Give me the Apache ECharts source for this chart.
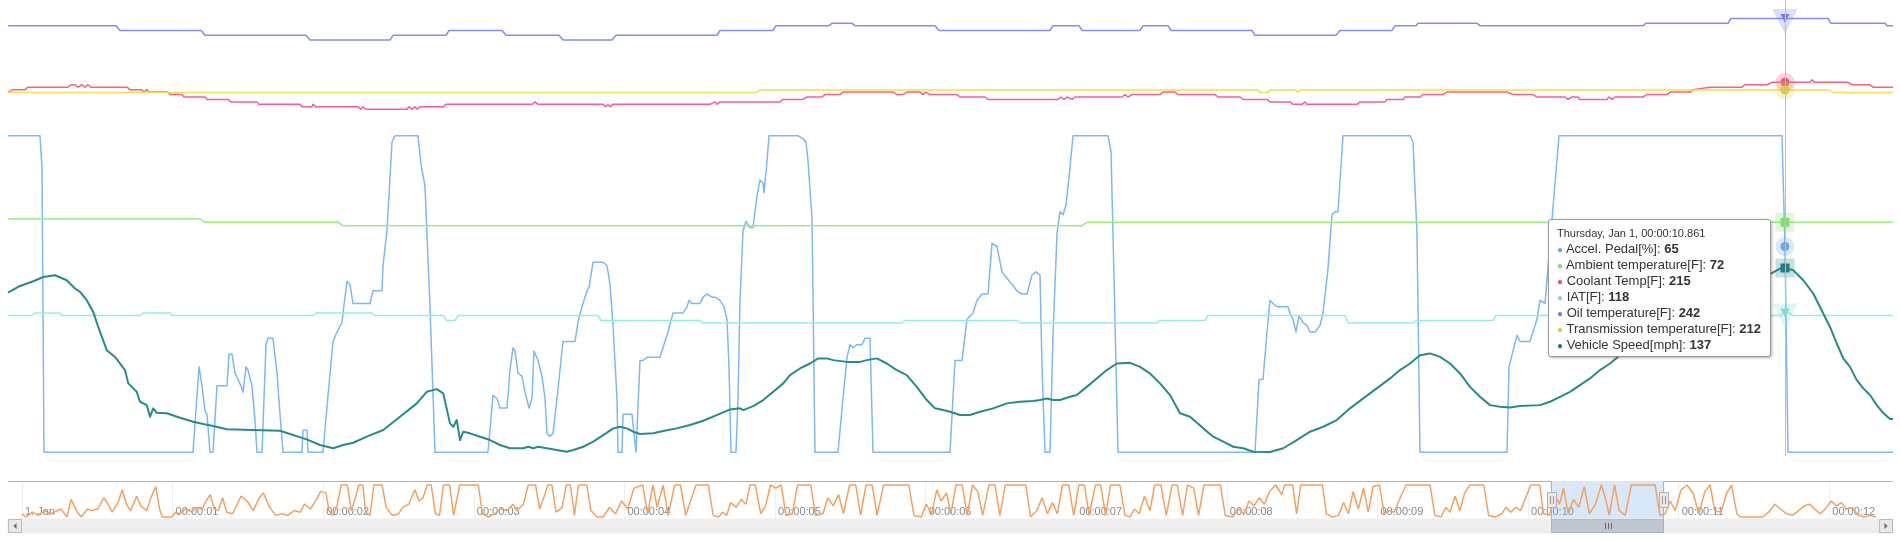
<!DOCTYPE html>
<html lang="en">
<head>
  <meta charset="UTF-8">
  <title>Vehicle log</title>
  <script src="https://cdn.jsdelivr.net/npm/echarts@6/dist/echarts.min.js"></script>
  <style>
    html, body { margin: 0; padding: 0; background: #fff; }
    #chart { width: 1900px; height: 540px; }
  </style>
</head>
<body>
<div id="chart"></div>
<script>
// time in ms since 1 Jan 1970
var seriesNames = ['Accel. Pedal[%]', 'Ambient temperature[F]', 'Coolant Temp[F]', 'IAT[F]',
  'Oil temperature[F]', 'Transmission temperature[F]', 'Vehicle Speed[mph]'];

var accelPedal = [[10150.2,100],[10163,100],[10163.8,90],[10164.6,0],[10224.2,0],[10226.6,27],[10227.8,21],[10229,13],[10229.8,12],[10231,0],[10232.2,0],[10233.8,21],[10237.8,21],[10238.6,31],[10239.8,31],[10241,25],[10242.2,23],[10243.4,21],[10244.2,19],[10245.4,27],[10246.2,26],[10247.8,21],[10249,10],[10249.8,0],[10251.8,0],[10253.4,34],[10254.2,36],[10256.2,36],[10257.8,25],[10259,12],[10260.2,0],[10267.8,0],[10268.2,7],[10269.8,7],[10270.2,0],[10276.2,0],[10278.2,18],[10280.2,35],[10281.8,38],[10283.8,41],[10284.2,44],[10285.8,54],[10287,53],[10288.2,47],[10295,47],[10296.2,51],[10299.8,51],[10300.2,59],[10301.8,70],[10303.8,98],[10305,100],[10314.2,100],[10315.4,91],[10317,84],[10319,46],[10321,0],[10342.2,0],[10344.2,18],[10345.8,17],[10347,14],[10349.8,14],[10351,26],[10352.2,33],[10353,32],[10354.2,25],[10355.8,24],[10357,19],[10358.6,14],[10359.8,17],[10360.6,32],[10362.2,29],[10363.8,24],[10365,17],[10365.8,6],[10367,5],[10368.2,6],[10369.8,17],[10372.2,35],[10377,35],[10378.2,41],[10379.8,46],[10381.8,51],[10382.6,52],[10384.2,60],[10388.2,60],[10389.8,59],[10391,53],[10392.2,40],[10393.8,17],[10394.2,0],[10395.8,0],[10396.2,12],[10399.8,12],[10400.6,6],[10401.4,0],[10401.8,0],[10403,29],[10404.2,29],[10405.8,30],[10411,30],[10412.2,33],[10414.2,38],[10416.2,44],[10420.2,44],[10421.8,46],[10422.6,48],[10423.8,47],[10427,47],[10428.2,49],[10429.8,50],[10431.8,49],[10433,49],[10435,48],[10436.6,46],[10437.8,42],[10438.6,27],[10439.4,0],[10441.4,0],[10442.2,17],[10443,48],[10444.2,70],[10445.4,73],[10447,71],[10448.2,71],[10449.8,81],[10451,86],[10452.2,85],[10452.6,82],[10453.8,92],[10454.6,100],[10466.2,100],[10468.2,99],[10469.4,98],[10470.2,92],[10471.8,74],[10473,0],[10482.2,0],[10484.2,17],[10485.8,30],[10487,34],[10488.2,33],[10489.8,34],[10491.8,34],[10493,36],[10495,36],[10496.2,0],[10527,0],[10529,29],[10531.8,29],[10533.8,42],[10536.2,44],[10537.8,48],[10539.8,50],[10542.2,50],[10543.8,66],[10544.6,66],[10545.8,65],[10547.8,57],[10549.8,55],[10551.8,53],[10553.8,51],[10555.8,50],[10557.8,50],[10559.8,56],[10561.4,57],[10563,56],[10563.8,27],[10565,0],[10567,0],[10568.2,37],[10569.8,69],[10571,76],[10572.2,75],[10573.4,78],[10575,90],[10576.2,100],[10590.2,100],[10591.4,95],[10592.2,69],[10594.2,0],[10649,0],[10650.6,23],[10652.2,23],[10653.8,38],[10655,48],[10656.2,47],[10657.8,46],[10662.2,46],[10663,44],[10664.2,42],[10665.4,38],[10666.6,43],[10668.2,41],[10669.8,40],[10671,38],[10673,38],[10675,40],[10676.2,44],[10678.2,58],[10679.8,75],[10681,76],[10682.2,76],[10684.2,100],[10711,100],[10712.2,98],[10713.8,69],[10715,0],[10749.8,0],[10750.6,27],[10752.2,32],[10753.8,37],[10755,35],[10759,35],[10760.6,39],[10761.8,42],[10763,48],[10765,47],[10770.6,100],[10859.8,100],[10861,65],[10862.2,0],[10904.2,0]];

var ambientTemp = [[10150.2,73],[10227,73],[10229,72],[10282.2,72],[10284.2,71],[10579.8,71],[10581.8,72],[10861,72],[10904.2,72]];

var coolantTemp = [[10150.2,211],[10152.2,212],[10157,212],[10158.2,213],[10174.2,213],[10175.4,214],[10177,214],[10178.2,213],[10179.8,214],[10181,213],[10182.2,214],[10183.4,213],[10197.8,213],[10199,212],[10203.8,212],[10204.6,211],[10205.8,212],[10206.6,211],[10214.2,211],[10215,210],[10219.8,210],[10220.6,209],[10229,209],[10229.8,208],[10238.2,208],[10239.4,207],[10249.8,207],[10250.6,206],[10267,206],[10267.8,205],[10271.8,205],[10272.2,206],[10273.4,205],[10290.2,205],[10291.4,204],[10292.2,205],[10293.4,204],[10309.8,204],[10310.6,205],[10311.8,204],[10313,205],[10313.8,204],[10315,205],[10324.2,205],[10325.4,206],[10359.8,206],[10361,207],[10362.2,206],[10388.2,206],[10389.4,205],[10390.2,206],[10391,205],[10392.2,206],[10431,206],[10433,207],[10433.8,206],[10435,207],[10459,207],[10460.2,208],[10468.2,208],[10469.8,209],[10475.8,209],[10477,210],[10483,210],[10484.2,211],[10504.2,211],[10505.8,210],[10508.2,210],[10509.8,211],[10515,211],[10516.2,210],[10517.4,211],[10519,210],[10529.8,210],[10531,209],[10541,209],[10542.2,208],[10570.2,208],[10571.4,209],[10572.6,208],[10573.8,209],[10575.8,208],[10577,209],[10595.8,209],[10597,210],[10598.2,209],[10599.8,210],[10611,210],[10612.2,211],[10617,211],[10618.2,210],[10633,210],[10634.2,209],[10643,209],[10644.2,208],[10653.8,208],[10655,207],[10663,207],[10664.2,206],[10667.8,206],[10669,207],[10669.8,206],[10689.8,206],[10691,207],[10701,207],[10701.8,208],[10708.2,208],[10709,209],[10715,209],[10716.2,210],[10724.2,210],[10725.8,211],[10749.8,211],[10752.2,210],[10760.2,210],[10761.8,209],[10773,209],[10774.2,208],[10775.8,209],[10778.2,209],[10779,208],[10789.8,208],[10790.6,209],[10791.8,208],[10793,209],[10804.2,209],[10805.8,210],[10813.8,210],[10815,211],[10823,211],[10824.2,212],[10831,213],[10843.8,213],[10845,214],[10853.8,214],[10855.8,215],[10861,215],[10871,215],[10871.8,216],[10873,215],[10886.2,215],[10887.8,214],[10895,214],[10896.2,213],[10904.2,213]];

var iatTemp = [[10150.2,117],[10159.8,117],[10161,118],[10171,118],[10171.8,117],[10203,117],[10204.2,118],[10215,118],[10215.8,117],[10272.2,117],[10273.4,118],[10295.8,118],[10297,117],[10324.2,117],[10325.8,115],[10329,115],[10330.2,117],[10386.2,117],[10387.4,115],[10427,115],[10428.2,114],[10507.8,114],[10509,115],[10553.8,115],[10555,114],[10609.8,114],[10611,115],[10629,115],[10630.2,117],[10685,117],[10686.2,114],[10712.2,114],[10713.4,115],[10744.2,115],[10745.4,117],[10859.4,117],[10860.2,118],[10861,118],[10863,118],[10863.8,117],[10904.2,117]];

var oilTemp = [[10150.2,239],[10193.4,239],[10195,237],[10227.4,237],[10229,235],[10269.4,235],[10271,233],[10303,233],[10304.2,235],[10325.4,235],[10326.6,237],[10347.8,237],[10349.4,235],[10370.6,235],[10372.2,233],[10391.8,233],[10393.4,235],[10433.8,235],[10435,237],[10456.2,237],[10457.4,239],[10478.6,239],[10479.8,240],[10487.8,240],[10489,239],[10521,239],[10522.6,237],[10567,237],[10568.2,239],[10578.6,239],[10579.8,237],[10603,237],[10604.2,239],[10614.2,239],[10615.4,237],[10647.8,237],[10649,235],[10681.4,235],[10683,237],[10703.8,237],[10705,239],[10713.4,239],[10714.2,240],[10737.8,240],[10739,239],[10804.2,239],[10805.4,240],[10838.2,240],[10839.4,242],[10861,242],[10878.2,242],[10879.4,240],[10901,240],[10901.8,239],[10904.2,239]];

var transTemp = [[10150.2,211],[10449.4,211],[10451,212],[10650.2,212],[10651,211],[10654.2,211],[10655,212],[10665.4,212],[10666.2,211],[10667,212],[10861,212],[10879,212],[10880.2,211],[10904.2,211]];

var vehicleSpeed = [[10150.2,118.7],[10155,123.6],[10160.3,127.1],[10164.3,130.3],[10169,131.6],[10173.7,127.9],[10177,121.7],[10179,119.2],[10181.7,113],[10184.3,104.3],[10186.3,93.1],[10189.7,75.8],[10193,70.8],[10197,61],[10198.3,51.1],[10200.3,47.4],[10201.7,44.8],[10203,37.4],[10205.7,34.9],[10207,26.2],[10208.3,32.5],[10209.7,29.2],[10213.7,28.8],[10219,25.5],[10224.3,22.5],[10228.3,20.8],[10232.3,19.3],[10237.7,16.9],[10248.3,16.4],[10259,15.8],[10263,13.4],[10269.7,9.4],[10275,5.2],[10280.3,2.8],[10284.3,5.2],[10288.3,6.9],[10293.7,11.4],[10300.3,16.4],[10307,26.2],[10313.7,36.2],[10317.7,44.8],[10321.7,46.8],[10324.3,43.6],[10327,21.3],[10328.3,18.8],[10329.7,23.8],[10331,8.9],[10332.3,15.1],[10335,13.9],[10339,11.4],[10343,8.9],[10347,5.2],[10351,2.8],[10356.3,2.8],[10358.3,3.9],[10360.3,2.8],[10362.3,3.9],[10365.7,2.8],[10369.7,1.5],[10373.7,0.2],[10376.3,1.5],[10380.3,3.9],[10384.3,7.7],[10388.3,12.6],[10392.3,17.6],[10395,18.8],[10397.7,17.6],[10400.3,15.1],[10403,13.4],[10408.3,13.9],[10412.3,15.6],[10417.7,17.6],[10423,20.1],[10428.3,23.3],[10433.7,27.5],[10439,31.7],[10443,32.5],[10444.3,31.2],[10448.3,34.2],[10452.3,38.7],[10456.3,44.8],[10460.3,51.1],[10463,57.2],[10467,62.2],[10471,65.9],[10474.3,69.7],[10477.7,69.7],[10480.3,68.4],[10485.7,67.1],[10491,67.1],[10493.7,68.4],[10497.7,69.7],[10501.7,65.9],[10505.7,61],[10509.7,57.2],[10513.7,48.5],[10517.7,38.7],[10521,32.5],[10524.3,31.2],[10527,30],[10531,27.5],[10535,27.5],[10539,30],[10544.3,32.5],[10549.7,36.2],[10555,37.4],[10560.3,37.9],[10563,38.7],[10565.7,39.9],[10568.3,38.7],[10571,38.7],[10575,41.1],[10577.7,42.4],[10581.7,48.5],[10585.7,54.8],[10589.7,61],[10593.7,65.9],[10599,66.4],[10603,63.4],[10607,58.5],[10611,51.1],[10615,42.4],[10619,28.8],[10623,26.2],[10628.3,17.6],[10632.3,11.4],[10636.3,7.7],[10640.3,3.9],[10644.3,2.8],[10648.3,0.2],[10655,0],[10660.3,2.8],[10665.7,8.9],[10671,15.1],[10676.3,18.8],[10681.7,23.8],[10687,32.5],[10692.3,39.9],[10697.7,47.4],[10703,54.8],[10707,61],[10711,65.9],[10715,72.1],[10719,73.4],[10723,70.8],[10727,65.9],[10731,58.5],[10735,48.5],[10739,41.1],[10743,34.9],[10747,33.7],[10751,33.2],[10755,34.2],[10763,34.9],[10767,37.4],[10771,41.1],[10775,44.8],[10779,49.8],[10783,54.8],[10787,61],[10791,65.9],[10795,72.1],[10799,78.3],[10811,90.7],[10827,105.6],[10843,120.4],[10855.4,132.8],[10859,136.6],[10861,137],[10864.3,135.3],[10868.3,127.9],[10872.3,118],[10876.3,103.1],[10879,93.1],[10881.7,80.8],[10884.3,69.7],[10887,63.4],[10889.7,53.5],[10892.3,47.4],[10895,42.4],[10897.7,34.9],[10900.3,29],[10903,24.5],[10904.2,24.5]];

// whole log, shown in the navigator
var navigatorPedal = [[0,10],[27,0],[68,15],[109,5],[149,20],[190,10],[258,25],[299,0],[326,55],[367,15],[394,0],[435,25],[462,20],[503,25],[543,60],[571,40],[598,15],[638,45],[666,85],[693,40],[720,20],[761,65],[788,35],[829,20],[856,60],[888,95],[916,20],[932,0],[992,0],
[1019,15],[1046,10],[1087,25],[1128,15],[1155,30],[1196,25],[1223,50],[1250,70],[1277,25],[1304,20],[1332,60],[1359,15],[1399,10],[1454,65],[1495,50],[1535,20],[1576,60],[1603,75],[1644,30],[1685,5],[1725,10],[1766,5],[1807,20],[1848,15],[1875,40],[1916,25],[1956,55],[1983,80],[2019,75],
[2038,20],[2065,5],[2092,35],[2119,100],[2160,100],[2187,20],[2214,60],[2236,100],[2263,100],[2282,15],[2310,5],[2337,100],[2391,100],[2418,30],[2459,5],[2500,10],[2527,30],[2568,40],[2609,85],[2636,50],[2663,60],[2690,100],[2717,100],[2745,10],[2772,5],[2799,100],[2840,100],[2866,5],[2907,100],[3030,100],[3057,10],
[3097,0],[3138,10],[3179,25],[3220,20],[3260,40],[3288,20],[3329,40],[3361,100],[3410,100],[3437,25],[3464,60],[3492,100],[3519,100],[3546,15],[3587,30],[3614,100],[3641,100],[3668,5],[3695,100],[3750,100],[3777,20],[3818,0],[3859,0],[3900,30],[3940,10],[3981,50],[4022,25],[4063,90],
[4121,100],[4154,10],[4189,100],[4217,30],[4257,100],[4290,5],[4334,100],[4372,100],[4407,5],[4475,100],[4557,100],[4589,5],[4625,0],[4652,15],[4679,5],[4706,45],[4742,30],[4774,55],[4807,40],[4834,100],[4869,100],[4905,10],[4937,35],[4970,100],[5005,90],[5041,100],[5073,5],[5114,10],[5150,100],[5237,100],[5269,5],[5318,10],[5351,60],[5386,35],[5422,70],[5454,10],[5495,100],[5536,100],[5568,5],[5604,100],[5645,100],[5677,5],[5721,100],[5889,100],[5922,5],[5971,0],[6004,40],[6039,10],[6074,85],[6102,50],[6140,75],[6167,10],[6202,100],[6243,100],[6276,5],[6311,100],[6346,80],[6379,5],[6420,100],[6461,100],[6493,5],[6529,100],[6665,100],[6697,0],[6738,20],[6773,60],[6809,10],[6841,45],[6874,10],[6909,100],[6950,100],[6983,5],[7018,100],[7054,100],[7086,5],[7127,100],[7162,100],[7195,5],[7228,100],[7290,100],[7323,5],[7358,0],[7385,25],[7418,10],[7453,65],[7489,20],[7521,100],[7562,100],[7598,5],[7636,100],[7671,100],[7706,5],[7739,100],[7780,90],[7812,5],[7848,100],[7957,100],[7989,5],[8038,0],[8079,25],[8114,10],[8147,50],[8180,35],[8215,60],[8250,40],[8283,80],[8324,100],[8365,70],
[8384,100],[8437,100],[8463,10],[8490,100],[8635,100],[8661,10],[8701,0],[8741,5],[8775,45],[8807,10],[8839,80],[8873,25],[8907,90],[8939,15],[8971,95],[9013,100],[9045,10],[9077,20],[9111,15],[9151,60],[9190,100],[9349,100],[9381,5],[9421,0],[9455,30],[9481,15],[9516,65],[9547,20],[9579,75],[9614,100],[9706,100],[9738,5],[9780,0],[9825,10],[9852,30],[9886,15],[9918,30],[9950,20],[9984,60],[10018,100],[10077,100],[10103,10],[10143,5],[10177,70],[10209,40],[10235,90],[10267,10],[10301,55],[10336,30],[10373,95],[10407,10],[10447,40],[10487,100],[10513,60],[10539,5],[10574,100],[10605,20],[10645,5],[10685,100],[10844,100],[10875,5],[10910,10],[10944,50],[10976,20],[11016,85],[11055,100],[11095,75],[11134,10],[11174,80],[11208,100],[11240,20],[11280,15],[11320,75],[11351,100],[11386,10],[11412,0],[11558,0],[11597,15],[11637,40],[11677,25],[11716,10],[11756,5],[11796,20],[11835,35],[11870,40],[11902,25],[11941,10],[11981,30],[12013,50],[12047,35],[12081,45],[12113,25],[12153,30],[12193,5],[12232,0],[12272,5],[12311,0]];

var navTicks = [0, 1000, 2000, 3000, 4000, 5000, 6000, 7000, 8000, 9000, 10000, 11000, 12000];

var windowStart = 10150.2, windowEnd = 10904.2, crossTime = 10861;

var colors = ['#6fa9dd', '#86dd72', '#e5577a', '#84d9d2', '#7a7fdc', '#dccb4e', '#237f7e'];
var markerSymbols = ['circle', 'rect', 'circle', 'triangle', 'triangle', 'circle', 'rect'];
var markerRotate = [0, 0, 0, 180, 180, 0, 0];
var lineWidths = [1.5, 1.5, 1.5, 1.5, 1.5, 1.5, 2];
// each series has its own hidden y scale
var yRanges = [[-1.169, 142.86], [2.239, 138.36], [62.469, 248.592], [60.8, 243.2],
  [59.708, 249.708], [59.5, 249.5], [-2.978, 336.53]];

var chart = echarts.init(document.getElementById('chart'));

function fade(hex, a) {
  var n = parseInt(hex.slice(1), 16);
  return 'rgba(' + (n >> 16) + ',' + ((n >> 8) & 255) + ',' + (n & 255) + ',' + a + ')';
}
function pad(n, w) {
  var s = String(n);
  while (s.length < (w || 2)) s = '0' + s;
  return s;
}
var dayNames = ['Sunday', 'Monday', 'Tuesday', 'Wednesday', 'Thursday', 'Friday', 'Saturday'];
var monthNames = ['Jan', 'Feb', 'Mar', 'Apr', 'May', 'Jun', 'Jul', 'Aug', 'Sep', 'Oct', 'Nov', 'Dec'];
function headerDate(t) {
  var d = new Date(t);
  return dayNames[d.getUTCDay()] + ', ' + monthNames[d.getUTCMonth()] + ' ' + d.getUTCDate() + ', ' +
    pad(d.getUTCHours()) + ':' + pad(d.getUTCMinutes()) + ':' + pad(d.getUTCSeconds()) + '.' + pad(d.getUTCMilliseconds(), 3);
}

var mainData = [accelPedal, ambientTemp, coolantTemp, iatTemp, oilTemp, transTemp, vehicleSpeed];

var series = mainData.map(function (d, i) {
  return {
    name: seriesNames[i],
    type: 'line',
    xAxisIndex: 0,
    yAxisIndex: i,
    data: d,
    showSymbol: false,
    symbol: markerSymbols[i],
    symbolRotate: markerRotate[i],
    symbolSize: 9,
    lineStyle: { color: colors[i], width: lineWidths[i], join: 'round' },
    itemStyle: { color: colors[i] },
    emphasis: {
      scale: false,
      lineStyle: { width: lineWidths[i] },
      itemStyle: { color: colors[i], borderColor: fade(colors[i], 0.25), borderWidth: 10 }
    }
  };
});

series.push({
  name: 'navigator',
  type: 'line',
  xAxisIndex: 1,
  yAxisIndex: 7,
  data: navigatorPedal,
  showSymbol: false,
  silent: true,
  lineStyle: { color: '#f2a25e', width: 1.5 },
  markArea: {
    silent: true,
    itemStyle: { color: 'rgba(128,179,236,0.3)' },
    data: [[{ xAxis: windowStart }, { xAxis: windowEnd }]]
  }
});

var yAxes = yRanges.map(function (r) {
  return { gridIndex: 0, show: false, min: r[0], max: r[1] };
});
yAxes.push({ gridIndex: 1, show: false, min: -6.25, max: 112.5 });

var option = {
  animation: false,
  backgroundColor: '#ffffff',
  grid: [
    { left: 8, right: 7, top: 0, height: 456 },
    { left: 22, right: 21, top: 481, height: 38 }
  ],
  xAxis: [
    {
      gridIndex: 0, type: 'value', min: windowStart, max: windowEnd,
      axisLine: { show: false }, axisTick: { show: false }, axisLabel: { show: false }, splitLine: { show: false }
    },
    {
      gridIndex: 1, type: 'value', min: 0, max: 12330,
      axisLine: { show: false },
      axisTick: { show: false, customValues: navTicks },
      splitLine: { show: true, lineStyle: { color: '#eeeeee', width: 1 } },
      axisLabel: {
        inside: true, margin: 2, align: 'left', padding: [0, 0, 0, 3],
        customValues: navTicks,
        color: '#888888', fontSize: 11, fontFamily: 'Liberation Sans, Arial, sans-serif',
        formatter: function (v) {
          return v === 0 ? '1. Jan' : '00:00:' + pad(Math.round(v / 1000));
        }
      }
    }
  ],
  yAxis: yAxes,
  tooltip: {
    trigger: 'axis',
    triggerOn: 'none',
    alwaysShowContent: true,
    showDelay: 0,
    transitionDuration: 0,
    axisPointer: { type: 'line', axis: 'x', animation: false, lineStyle: { color: '#c0c0c0', width: 1, type: 'solid' } },
    backgroundColor: '#ffffff',
    borderColor: '#9a9a9a',
    borderWidth: 1,
    padding: [6, 9, 3, 8],
    extraCssText: 'border-radius:3px;box-shadow:1px 1px 3px rgba(0,0,0,0.3);',
    textStyle: { color: '#333333', fontSize: 13, fontFamily: 'Liberation Sans, Arial, sans-serif' },
    position: function (point, params, dom, rect, size) {
      return [point[0] - size.contentSize[0] - 14, 219];
    },
    formatter: function (params) {
      var html = '<div style="font-size:11px;line-height:15px;">' + headerDate(params[0].value[0]) + '</div>';
      params.forEach(function (p) {
        html += '<div style="font-size:13px;line-height:15px;"><span style="color:' + p.color +
          ';font-size:10px;">\u25CF</span> ' + p.seriesName + ': <b>' + p.value[1] + '</b></div>';
      });
      return html;
    }
  },
  series: series
};

chart.setOption(option);

// navigator outline, handles and scrollbar, placed from the navigator axis
var navTop = 481, navHeight = 38, barTop = 519, barHeight = 14, barLeft = 8, barRight = 1893;
var x0 = Math.round(chart.convertToPixel({ xAxisIndex: 1 }, windowStart)) + 0.5;
var x1 = Math.round(chart.convertToPixel({ xAxisIndex: 1 }, windowEnd)) - 0.5;
var els = [];
els.push({ type: 'rect', z: 100, shape: { x: barLeft, y: barTop, width: barRight - barLeft, height: barHeight },
  style: { fill: '#eeeeee', stroke: '#eeeeee' } });
els.push({ type: 'rect', z: 101, shape: { x: x0, y: barTop + 0.5, width: x1 - x0, height: barHeight - 1 },
  style: { fill: '#bfc8d1', stroke: '#bbbbbb' } });
var cx = Math.round((x0 + x1) / 2);
[-3, 0, 3].forEach(function (o) {
  els.push({ type: 'line', z: 102, shape: { x1: cx + o + 0.5, y1: barTop + 4, x2: cx + o + 0.5, y2: barTop + 10 },
    style: { stroke: '#666666', lineWidth: 1 } });
});
[barLeft, barRight - barHeight].forEach(function (bx, k) {
  els.push({ type: 'rect', z: 101, shape: { x: bx + 0.5, y: barTop + 0.5, width: barHeight - 1, height: barHeight - 1 },
    style: { fill: '#ebe7e8', stroke: '#bbbbbb' } });
  var mx = bx + barHeight / 2, my = barTop + barHeight / 2;
  var pts = k === 0 ? [[mx + 1.5, my - 3], [mx + 1.5, my + 3], [mx - 1.5, my]]
                    : [[mx - 1.5, my - 3], [mx - 1.5, my + 3], [mx + 1.5, my]];
  els.push({ type: 'polygon', z: 102, shape: { points: pts }, style: { fill: '#666666' } });
});
els.push({ type: 'polyline', z: 103, shape: { points: [[barLeft, navTop + 0.5], [x0, navTop + 0.5], [x0, barTop + barHeight - 0.5],
  [x1, barTop + barHeight - 0.5], [x1, navTop + 0.5], [barRight, navTop + 0.5]] },
  style: { stroke: '#b2b1b6', lineWidth: 1, fill: null } });
[x0, x1].forEach(function (hx) {
  var hy = navTop + navHeight / 2 - 8;
  var rx = Math.round(hx);
  els.push({ type: 'rect', z: 104, shape: { x: rx - 4.5, y: hy + 0.5, width: 9, height: 15 },
    style: { fill: '#ebe7e8', stroke: '#b2b1b6' } });
  els.push({ type: 'line', z: 105, shape: { x1: rx - 1.5, y1: hy + 4, x2: rx - 1.5, y2: hy + 12 }, style: { stroke: '#999999' } });
  els.push({ type: 'line', z: 105, shape: { x1: rx + 1.5, y1: hy + 4, x2: rx + 1.5, y2: hy + 12 }, style: { stroke: '#999999' } });
});
chart.setOption({ graphic: els });

var crossIndex = accelPedal.findIndex(function (p) { return p[0] === crossTime; });
chart.dispatchAction({ type: 'showTip', seriesIndex: 0, dataIndex: crossIndex });
</script>
</body>
</html>
